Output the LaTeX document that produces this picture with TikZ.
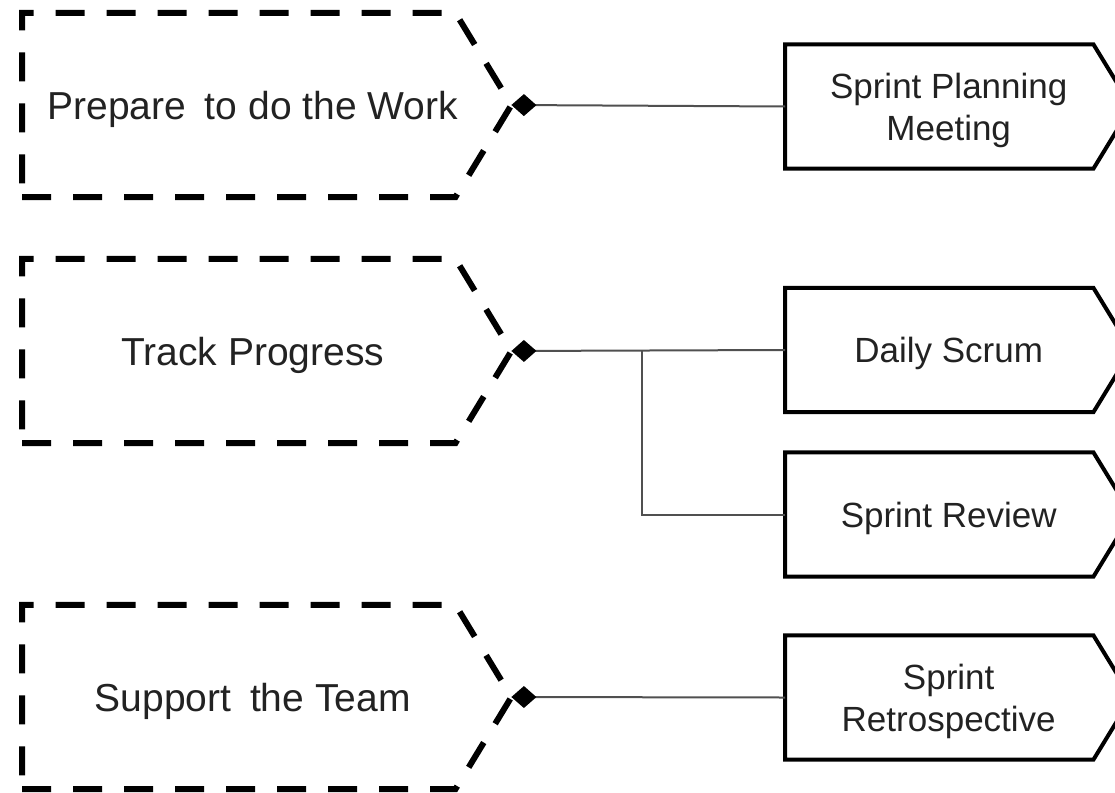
\documentclass[tikz,border=0pt]{standalone}
\usepackage{fontspec}
\setmainfont{Liberation Sans}
\usetikzlibrary{calc,arrows.meta}
\definecolor{ink}{HTML}{222222}
\definecolor{wire}{HTML}{505050}

\begin{document}
\begin{tikzpicture}[x=1pt,y=-1pt,
  goal/.style={minimum width=461pt,minimum height=184pt,inner sep=0pt,
    anchor=west,text=ink,text depth=0pt,font=\fontsize{39}{47}\selectfont},
  event/.style={minimum width=327pt,minimum height=124pt,inner sep=0pt,
    anchor=west,text=ink,text depth=0pt,align=center,
    font=\fontsize{35}{42}\selectfont},
  goalframe/.style={draw=black,line width=6pt,dash pattern=on 29pt off 22pt},
  eventframe/.style={draw=black,line width=4pt,line join=miter},
  link/.style={draw=wire,line width=2pt,
    {Diamond[length=25pt,width=22pt,color=black]}-},
  branch/.style={draw=wire,line width=2pt}
]
\useasboundingbox (0,0) rectangle (1115,792);
\clip (0,0) rectangle (1115,792);

% goal areas (dashed pointed frames)
\node[goal] (prep)    at (22,105) {Prepare\hspace{8pt} to do the Work};
\node[goal] (track)   at (22,351) {Track Progress};
\node[goal] (support) at (22,697) {Support\hspace{8pt} the Team};

\foreach \g in {prep,track,support}{
  \draw[goalframe] (\g.south west) -- ($(\g.south east)+(-28,0)$)
    -- ($(\g.east)+(28,0)$) -- ($(\g.north east)+(-28,0)$)
    -- (\g.north west) -- cycle;
  \coordinate (\g-tip) at ($(\g.east)+(28,0)$);
}

% Scrum events (solid pointed frames)
\node[event] (plan)   at (785,106.5) {Sprint Planning\\Meeting};
\node[event] (daily)  at (785,350)   {Daily Scrum};
\node[event] (review) at (785,514.5) {Sprint Review};
\node[event] (retro)  at (785,697.5) {Sprint\\Retrospective};

\foreach \e in {plan,daily,review,retro}{
  \draw[eventframe] (\e.north west) -- ($(\e.north east)+(-19,0)$)
    -- ($(\e.east)+(19,0)$) -- ($(\e.south east)+(-19,0)$)
    -- (\e.south west) -- cycle;
}

% connectors
\draw[link] (prep-tip) -- (plan.west);
\draw[link] (track-tip) -- (daily.west);
\coordinate (fork) at ($(track-tip)+(131,0)$);
\draw[branch] (fork) |- (review.west);
\draw[link] (support-tip) -- (retro.west);
\end{tikzpicture}
\end{document}
